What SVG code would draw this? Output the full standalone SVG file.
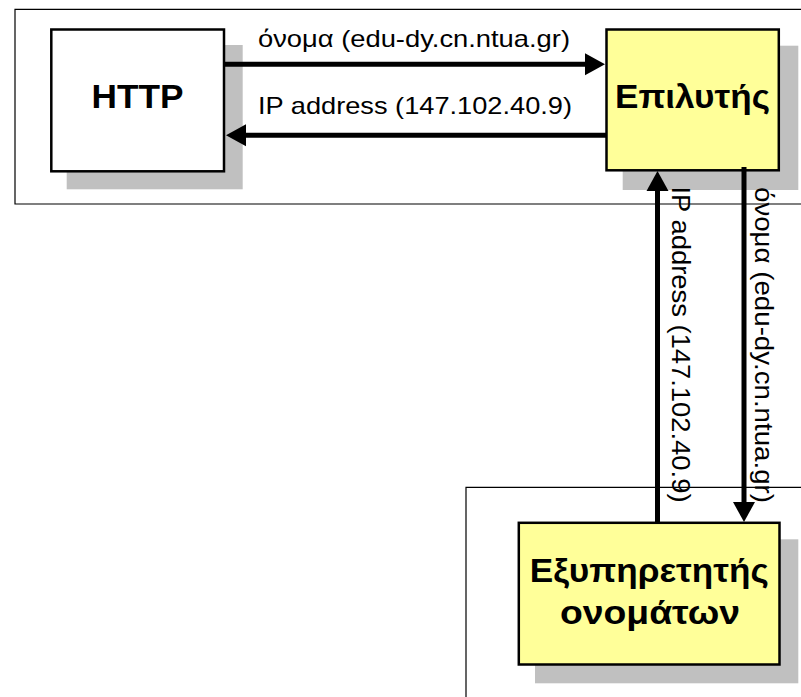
<svg xmlns="http://www.w3.org/2000/svg" width="801" height="697" viewBox="0 0 801 697">
<style>
.frame{fill:none;stroke:#000;stroke-width:1.2}
.shadow{fill:#c0c0c0;stroke:none}
.box{stroke:#000;stroke-width:2.5}
.white{fill:#fff}
.yellow{fill:#ffff99}
.title{font-family:"Liberation Sans",Arial,sans-serif;font-weight:bold;font-size:33px;fill:#000;text-anchor:middle}
.lbl{font-family:"Liberation Sans",Arial,sans-serif;font-size:24px;fill:#000}
.vlbl{font-family:"Liberation Sans",Arial,sans-serif;font-size:25.6px;fill:#000}
.conn{stroke:#000;stroke-width:5;fill:none;marker-end:url(#arrow)}
</style>
<defs>
<marker id="arrow" markerUnits="userSpaceOnUse" markerWidth="22" markerHeight="22" refX="2" refY="11" orient="auto" overflow="visible">
<path d="M0,0 L20,11 L0,22 Z" fill="#000"/>
</marker>
</defs>
<rect width="801" height="697" fill="#fff"/>
<g id="frame-top">
<path class="frame" d="M810,9.3 H15 V204 H810"/>
</g>
<g id="frame-bottom">
<path class="frame" d="M810,487.3 H466 V710"/>
</g>
<g id="node-http">
<rect class="shadow" x="66.7" y="45" width="176" height="144.3"/>
<rect class="box white" x="51.3" y="29.5" width="172.7" height="141.8"/>
<text class="title" x="137.6" y="108.3" textLength="92" lengthAdjust="spacingAndGlyphs">HTTP</text>
</g>
<g id="node-resolver">
<rect class="shadow" x="622.7" y="45.7" width="175.6" height="144.3"/>
<rect class="box yellow" x="606.5" y="29.5" width="172.3" height="140.8"/>
<text class="title" x="692.5" y="108.3" textLength="155" lengthAdjust="spacingAndGlyphs">Επιλυτής</text>
</g>
<g id="node-nameserver">
<rect class="shadow" x="535" y="539.3" width="263.3" height="144"/>
<rect class="box yellow" x="518.8" y="522.8" width="260.7" height="141.7"/>
<text class="title" x="649.2" y="581.7" textLength="239" lengthAdjust="spacingAndGlyphs">Εξυπηρετητής</text>
<text class="title" x="650" y="624" textLength="180" lengthAdjust="spacingAndGlyphs">ονομάτων</text>
</g>
<g id="connectors">
<line class="conn" x1="223" y1="64.2" x2="587" y2="64.2"/>
<line class="conn" x1="607" y1="135.3" x2="244" y2="135.3"/>
<line class="conn" x1="657.5" y1="522.8" x2="657.5" y2="189"/>
<line class="conn" x1="744" y1="167" x2="744" y2="504"/>
<text class="lbl" x="258" y="47" textLength="312" lengthAdjust="spacingAndGlyphs">όνομα (edu-dy.cn.ntua.gr)</text>
<text class="lbl" x="258" y="114.3" textLength="314" lengthAdjust="spacingAndGlyphs">IP address (147.102.40.9)</text>
<text class="vlbl" transform="translate(671.7,186.5) rotate(90)" x="0" y="0" textLength="316" lengthAdjust="spacingAndGlyphs">IP address (147.102.40.9)</text>
<text class="vlbl" transform="translate(755,187) rotate(90)" x="0" y="0" textLength="316" lengthAdjust="spacingAndGlyphs">όνομα (edu-dy.cn.ntua.gr)</text>
</g>
</svg>
